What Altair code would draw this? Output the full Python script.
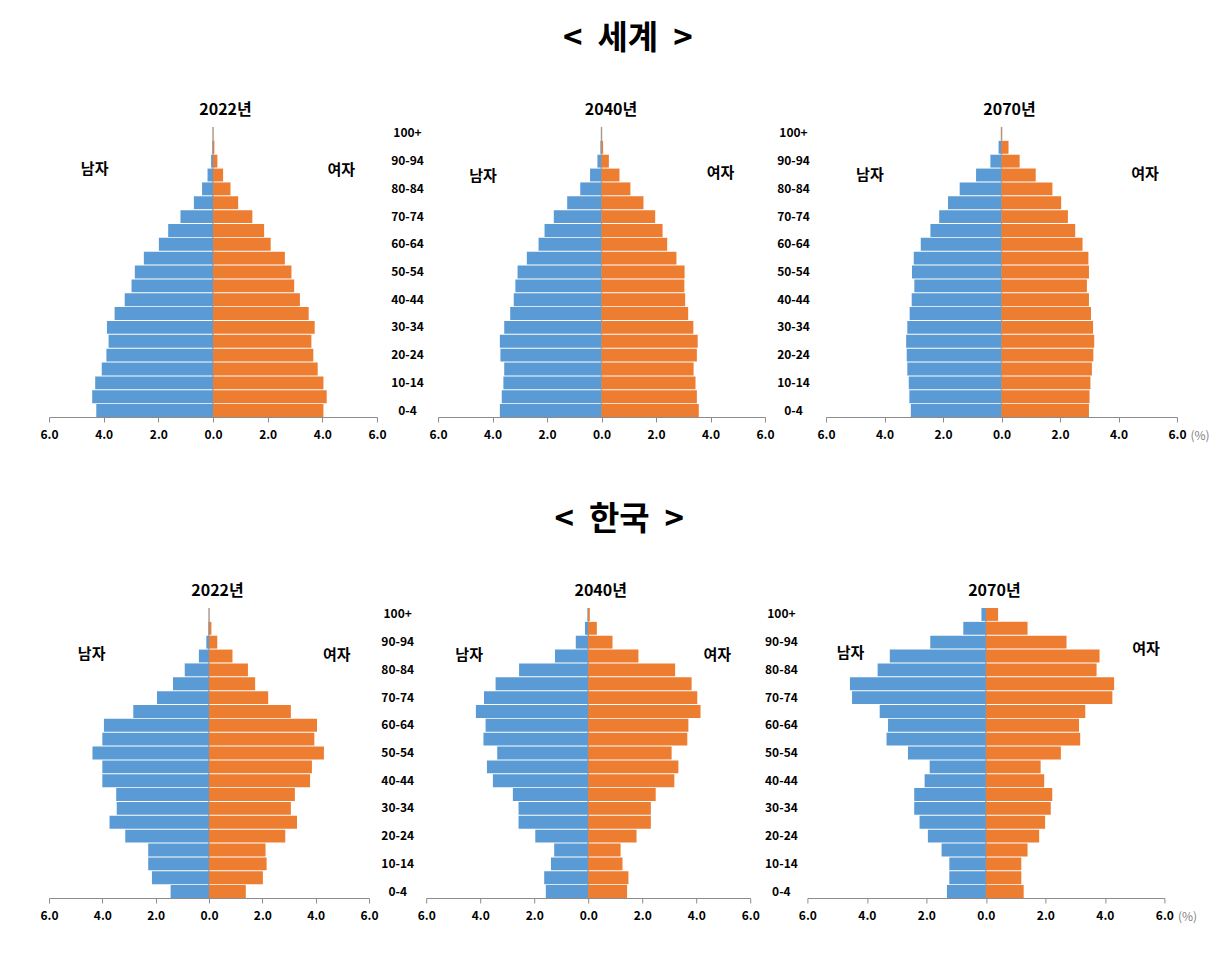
import altair as alt
import pandas as pd

AGES = ["0-4", "5-9", "10-14", "15-19", "20-24", "25-29", "30-34", "35-39", "40-44", "45-49",
        "50-54", "55-59", "60-64", "65-69", "70-74", "75-79", "80-84", "85-89", "90-94", "95-99", "100+"]
AGE_TICKS = AGES[::2]
X_TICKS = [-6, -4, -2, 0, 2, 4, 6]

# values (%), listed from 0-4 up to 100+
W2022_M = [4.27, 4.42, 4.31, 4.07, 3.90, 3.82, 3.88, 3.60, 3.23, 2.98, 2.86, 2.53, 1.98, 1.64, 1.19, 0.70, 0.40, 0.20, 0.07, 0.02, 0.00]
W2022_F = [4.04, 4.16, 4.04, 3.83, 3.67, 3.60, 3.72, 3.50, 3.18, 2.97, 2.87, 2.63, 2.11, 1.87, 1.44, 0.92, 0.64, 0.37, 0.16, 0.05, 0.01]
W2040_M = [3.73, 3.66, 3.60, 3.57, 3.71, 3.73, 3.57, 3.35, 3.22, 3.16, 3.08, 2.74, 2.31, 2.09, 1.75, 1.26, 0.78, 0.42, 0.15, 0.04, 0.01]
W2040_F = [3.57, 3.50, 3.45, 3.38, 3.50, 3.53, 3.37, 3.18, 3.07, 3.04, 3.05, 2.75, 2.41, 2.24, 1.97, 1.54, 1.06, 0.66, 0.27, 0.06, 0.01]
W2070_M = [3.10, 3.15, 3.17, 3.22, 3.24, 3.26, 3.22, 3.14, 3.07, 2.98, 3.06, 3.00, 2.76, 2.43, 2.13, 1.83, 1.43, 0.87, 0.38, 0.10, 0.01]
W2070_F = [2.99, 3.01, 3.04, 3.09, 3.14, 3.17, 3.13, 3.06, 2.99, 2.92, 2.99, 2.97, 2.77, 2.52, 2.27, 2.04, 1.74, 1.17, 0.62, 0.24, 0.02]
K2022_M = [1.44, 2.14, 2.28, 2.28, 3.14, 3.73, 3.46, 3.48, 4.00, 4.00, 4.37, 4.00, 3.94, 2.84, 1.95, 1.35, 0.91, 0.38, 0.10, 0.02, 0.00]
K2022_F = [1.38, 2.02, 2.16, 2.12, 2.86, 3.30, 3.07, 3.22, 3.79, 3.86, 4.31, 3.95, 4.05, 3.07, 2.22, 1.73, 1.46, 0.88, 0.31, 0.09, 0.01]
K2040_M = [1.57, 1.63, 1.38, 1.26, 1.96, 2.58, 2.58, 2.79, 3.53, 3.75, 3.37, 3.88, 3.80, 4.16, 3.86, 3.43, 2.56, 1.23, 0.46, 0.12, 0.02]
K2040_F = [1.44, 1.49, 1.27, 1.20, 1.79, 2.32, 2.32, 2.50, 3.19, 3.34, 3.09, 3.67, 3.71, 4.16, 4.04, 3.83, 3.22, 1.86, 0.90, 0.32, 0.06]
K2070_M = [1.31, 1.23, 1.23, 1.49, 1.95, 2.23, 2.41, 2.41, 2.06, 1.89, 2.62, 3.34, 3.29, 3.57, 4.50, 4.57, 3.64, 3.23, 1.87, 0.76, 0.15]
K2070_F = [1.27, 1.19, 1.19, 1.40, 1.79, 1.99, 2.18, 2.23, 1.96, 1.84, 2.52, 3.17, 3.13, 3.34, 4.25, 4.31, 3.72, 3.82, 2.71, 1.40, 0.41]

SEXES = ["남자", "여자"]
COLORS = ["#5B9BD5", "#ED7D31"]
KFONT = "Noto Sans CJK KR"
AXIS_GRAY = "#8c8c8c"
NB = "\u00a0"


def panel(year, male, female, width, m_x, f_x, m_dy, f_dy, tdx, age_pad=None, pct=False, left_ext=None):
    df = pd.DataFrame({
        "age": AGES + AGES,
        "sex": [SEXES[0]] * len(AGES) + [SEXES[1]] * len(AGES),
        "value": [-v for v in male] + list(female),
    })
    xscale = alt.Scale(domain=[-6, 6], nice=False, zero=False)
    yscale = alt.Scale(domain=AGES[::-1], paddingInner=0.07, paddingOuter=0)

    xaxis_kw = dict(values=X_TICKS, labelExpr="format(abs(datum.value), '.1f')", grid=False,
                    domainColor=AXIS_GRAY, tickColor=AXIS_GRAY, tickSize=5, domainWidth=1.2,
                    labelFont=KFONT, labelFontWeight="bold", labelFontSize=12, labelColor="black",
                    labelPadding=7, labelFlush=False)
    if pct:
        xaxis_kw.update(title="(%)", titleX=width + 13, titleY=18, titleAlign="left",
                        titleBaseline="middle", titleFontWeight="normal", titleFontSize=12,
                        titleColor="#7f7f7f", titleFont=KFONT, titleAngle=0)
        xaxis = alt.Axis(**xaxis_kw)
    else:
        xaxis = alt.Axis(title=None, **xaxis_kw)

    if age_pad is not None:
        yaxis = alt.Axis(values=AGE_TICKS, domain=False, ticks=False, tickSize=0, title=None,
                         labelPadding=age_pad, labelAlign="center", labelBaseline="middle",
                         labelFont=KFONT, labelFontWeight="bold", labelFontSize=12,
                         labelColor="black")
    elif left_ext is not None:
        # invisible tick: fixes the left margin of the layout
        yaxis = alt.Axis(values=[AGES[0]], domain=False, labels=False, ticks=True,
                         tickSize=left_ext, tickColor="transparent", title=None)
    else:
        yaxis = None

    def xe():
        return alt.X("value:Q", scale=xscale, axis=xaxis)

    def ye():
        return alt.Y("age:N", scale=yscale, axis=yaxis)

    rule = alt.Chart(pd.DataFrame({"value": [0], "age": ["100+"]})).mark_rule(
        color="#a6a6a6", strokeWidth=1.5).encode(x=xe())
    bars = alt.Chart(df).mark_bar().encode(
        x=xe(),
        y=ye(),
        color=alt.Color("sex:N", scale=alt.Scale(domain=SEXES, range=COLORS), legend=None),
    )

    def lab(xv, text, dy):
        return alt.Chart(pd.DataFrame({"value": [xv], "age": ["85-89"], "t": [text]})).mark_text(
            font=KFONT, fontWeight="bold", fontSize=15, color="black", dy=dy
        ).encode(x=xe(), y=ye(), text="t:N")

    return alt.layer(rule, bars, lab(m_x, SEXES[0], m_dy), lab(f_x, SEXES[1], f_dy)).properties(
        width=width, height=290,
        title=alt.TitleParams(f"{year}년", font=KFONT, fontSize=16, fontWeight="bold",
                              color="black", dx=tdx, offset=8, anchor="middle"),
    )


def row_title(text, dx):
    return alt.TitleParams(text, font=KFONT, fontSize=33, fontWeight="bold", color="black",
                           anchor="middle", dx=dx, offset=46)


row1 = alt.hconcat(
    panel(2022, W2022_M, W2022_F, 328, -4.33, 4.69, -6, -5, 12.5, left_ext=16),
    panel(2040, W2040_M, W2040_F, 327, -4.35, 4.37, 1, -2, 9.5, age_pad=31),
    panel(2070, W2070_M, W2070_F, 351, -4.50, 4.91, 0, -1, 8, age_pad=33, pct=True),
    spacing=61, bounds="flush", title=row_title(f"<{NB}{NB}세계{NB}{NB}>", 7),
)
row2 = alt.hconcat(
    panel(2022, K2022_M, K2022_F, 320, -4.40, 4.79, -2, -1, 8.5),
    panel(2040, K2040_M, K2040_F, 324, -4.41, 4.78, -1, -1, 12.5, age_pad=29),
    panel(2070, K2070_M, K2070_F, 357, -4.55, 5.38, -3, -7, 8.5, age_pad=26.5, pct=True),
    spacing=57.2, bounds="flush", title=row_title(f"<{NB}{NB}한국{NB}{NB}>", 1),
)

chart = alt.vconcat(row1, row2, spacing=63).properties(
    padding={"left": 32, "top": 23, "right": 5, "bottom": 5},
    background="white",
).configure_view(stroke=None)

chart.save("out.html", embed_options={"renderer": "svg", "actions": False})
